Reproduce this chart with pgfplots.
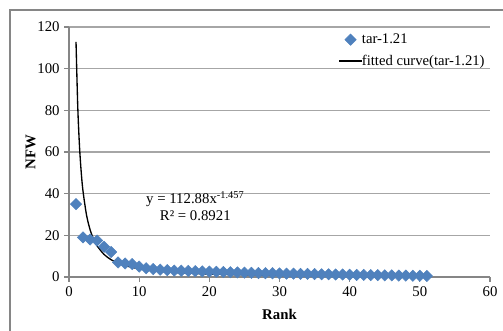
\documentclass[border=0pt]{standalone}
\usepackage{pgfplots}
\pgfplotsset{compat=1.18}
\usepackage{fontspec}
\setmainfont{Liberation Serif}
\definecolor{mblue}{HTML}{4F81BD}
\definecolor{agray}{HTML}{868686}
\definecolor{ggray}{HTML}{A6A6A6}
\begin{document}
\begin{tikzpicture}
\useasboundingbox (0,0) rectangle (377.25pt,248.25pt);
\draw[agray, line width=0.8pt] (7.5pt,-5pt) -- (7.5pt,240.75pt) -- (390pt,240.75pt);
\begin{axis}[
  at={(51.75pt,40.5pt)}, anchor=origin,
  scale only axis, width=315.75pt, height=187.5pt,
  xmin=0, xmax=60, ymin=0, ymax=120,
  xtick={0,10,...,60}, ytick={0,20,...,120},
  axis x line*=bottom, axis y line*=left,
  axis line style={agray, line width=0.8pt, -},
  tick style={agray, line width=0.8pt},
  tick align=outside, major tick length=3.5pt,
  ymajorgrids, grid style={ggray, line width=0.8pt},
  font=\fontsize{11.1}{13}\selectfont,
  /pgf/number format/assume math mode=true,
  xlabel={\textbf{Rank}}, ylabel={\textbf{NFW}},
  xlabel style={yshift=-2.5pt},
  ylabel style={yshift=-5.5pt},
  legend style={at={(0.63,0.995)}, anchor=north west, draw=none, fill=none,
    font=\fontsize{11}{13}\selectfont, row sep=3pt, cells={anchor=west}},
  legend cell align=left,
  clip=false,
]
\addplot[only marks, mark=square*, mark size=3pt, mark options={rotate=45, fill=mblue, draw=mblue}] coordinates {
(1,35)(2,19)(3,18)(4,17.5)(5,14.5)(6,12)(7,7)(8,6.5)(9,6.2)(10,5)
(11,4.2)(12,3.8)(13,3.5)(14,3.3)(15,3.1)(16,3)(17,2.9)(18,2.8)(19,2.7)(20,2.6)
(21,2.5)(22,2.4)(23,2.3)(24,2.2)(25,2.1)(26,2)(27,1.9)(28,1.8)(29,1.8)(30,1.7)
(31,1.6)(32,1.6)(33,1.5)(34,1.5)(35,1.4)(36,1.3)(37,1.3)(38,1.2)(39,1.2)(40,1.1)
(41,1)(42,1)(43,0.9)(44,0.9)(45,0.8)(46,0.8)(47,0.7)(48,0.7)(49,0.6)(50,0.6)(51,0.5)
};
\addlegendentry[mark options={scale=0.8}]{\hspace{-2.5pt}tar-1.21}
\addplot[black, line width=1pt, smooth, no markers] coordinates {
(1,112.88)(1.25,81.55)(1.5,62.52)(1.75,49.95)(2,41.13)(2.5,29.70)(3,22.78)(3.5,18.20)
(4,14.98)(5,10.82)(6,8.30)(7,6.63)(8,5.46)(10,3.94)(12,3.02)(15,2.18)(20,1.44)
(25,1.04)(30,0.795)(40,0.523)(51,0.367)
};
\addlegendentry{\hspace{-2.5pt}fitted curve(tar-1.21)}
\node[align=center, font=\fontsize{11.1}{12.5}\selectfont, inner sep=0pt] at (axis cs:18.0,34.0)
  {y = 112.88x\textsuperscript{-1.457}\\ R² = 0.8921};
\end{axis}
\end{tikzpicture}
\end{document}
